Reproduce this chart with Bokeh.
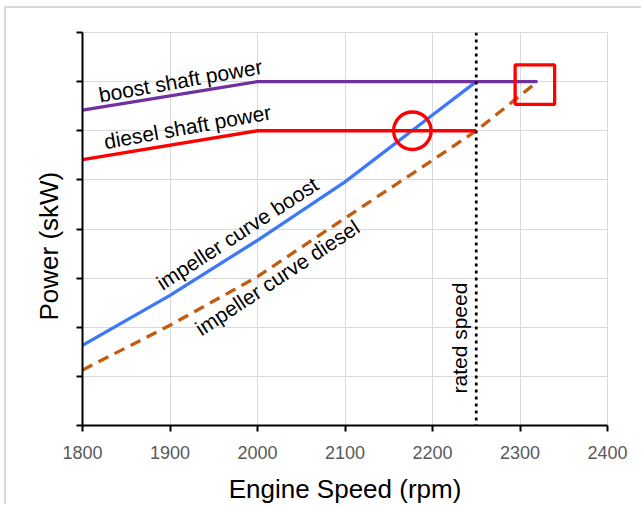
from bokeh.plotting import figure
from bokeh.models import Range1d, FixedTicker, Span, Label, Title, ColumnDataSource
from bokeh.embed import file_html
from bokeh.resources import INLINE

# ---- data ----
speed_boost_shaft = [1800, 2000, 2320]
power_boost_shaft = [6.42, 7.0, 7.0]

speed_diesel_shaft = [1800, 2000, 2250]
power_diesel_shaft = [5.41, 6.0, 6.0]

speed_imp_boost = [1800, 1900, 2000, 2100, 2200, 2250]
power_imp_boost = [1.63, 2.65, 3.77, 4.96, 6.32, 7.0]

speed_imp_diesel = [1800, 1900, 2000, 2100, 2200, 2250, 2320]
power_imp_diesel = [1.13, 2.04, 3.03, 4.22, 5.40, 6.0, 7.0]

rated_speed = 2250
circle_speed = [2177]
circle_power = [6.0]
square_speed = [2317]
square_power = [6.94]

x_ticks = [1800, 1900, 2000, 2100, 2200, 2300, 2400]
y_ticks = [0, 1, 2, 3, 4, 5, 6, 7, 8]

FONT = "Liberation Sans"

p = figure(width=637, height=498,
           x_range=Range1d(1800, 2400), y_range=Range1d(0, 8),
           output_backend="svg", toolbar_location=None,
           min_border_left=76, min_border_right=36,
           min_border_top=24, min_border_bottom=81,
           background_fill_color="white", border_fill_color="white")

# light chart-area frame at the top-left, as in the reference
p.styles = {"margin-left": "4px", "margin-top": "6px",
            "border-left": "2px solid #d9d9d9", "border-top": "2px solid #d9d9d9"}

p.outline_line_color = "#d9d9d9"
p.outline_line_width = 1

# grid
p.xgrid.ticker = FixedTicker(ticks=x_ticks)
p.ygrid.ticker = FixedTicker(ticks=y_ticks)
for g in (p.xgrid, p.ygrid):
    g.grid_line_color = "#d9d9d9"
    g.grid_line_width = 1

# x axis
xa = p.xaxis[0]
xa.ticker = FixedTicker(ticks=x_ticks)
xa.axis_label = "Engine Speed (rpm)"
xa.axis_label_text_font = FONT
xa.axis_label_text_font_size = "26px"
xa.axis_label_text_font_style = "normal"
xa.axis_label_text_color = "black"
xa.axis_label_standoff = 12
xa.major_label_text_font = FONT
xa.major_label_text_font_size = "18px"
xa.major_label_text_color = "#595959"
xa.major_label_standoff = 14

# y axis (ticks only, no labels)
ya = p.yaxis[0]
ya.ticker = FixedTicker(ticks=y_ticks)
ya.major_label_text_color = None
ya.major_label_text_font_size = "10px"
ya.major_label_standoff = 0

for ax in (xa, ya):
    ax.axis_line_color = "black"
    ax.axis_line_width = 2
    ax.major_tick_line_color = "black"
    ax.major_tick_line_width = 2
    ax.major_tick_out = 6
    ax.major_tick_in = 0
    ax.minor_tick_out = 0
    ax.minor_tick_in = 0

# y-axis title as a left-side title, shifted down like the reference
p.add_layout(Title(text="Power (skW)", align="left", offset=105,
                   vertical_align="middle", standoff=24,
                   text_font=FONT, text_font_size="26px",
                   text_font_style="normal", text_color="black"), "left")

LW = 3.3

p.line(x="x", y="y", source=ColumnDataSource(dict(x=speed_imp_diesel, y=power_imp_diesel)),
       line_color="#C55A11", line_width=LW, line_dash="11 7")
p.line(x="x", y="y", source=ColumnDataSource(dict(x=speed_imp_boost, y=power_imp_boost)),
       line_color="#3C78F8", line_width=LW)
p.line(x="x", y="y", source=ColumnDataSource(dict(x=speed_diesel_shaft, y=power_diesel_shaft)),
       line_color="#FF0000", line_width=LW)
p.line(x="x", y="y", source=ColumnDataSource(dict(x=speed_boost_shaft, y=power_boost_shaft)),
       line_color="#7030A0", line_width=LW)

p.scatter(x=circle_speed, y=circle_power, marker="circle", size=37.5,
          fill_color=None, line_color="#FF0000", line_width=3.3)
p.scatter(x=square_speed, y=square_power, marker="square", size=39.5,
          fill_color=None, line_color="#FF0000", line_width=3.3)

p.add_layout(Span(location=rated_speed, dimension="height", line_color="black",
                  line_width=2.7, line_dash="3 4"))

def note(text, x, y, angle, size="21px"):
    p.add_layout(Label(x=x, y=y, text=text, angle=angle, angle_units="deg",
                       text_align="center", text_baseline="middle",
                       text_font=FONT, text_font_size=size, text_color="black"))

note("boost shaft power", 1912, 7.02, 10)
note("diesel shaft power", 1920, 6.08, 10.2)
note("impeller curve boost", 1977, 3.91, 33)
note("impeller curve diesel", 2022.7, 3.01, 33.4)
note("rated speed", 2231.2, 1.78, 90)

open("out.html", "w").write(file_html(p, INLINE))
